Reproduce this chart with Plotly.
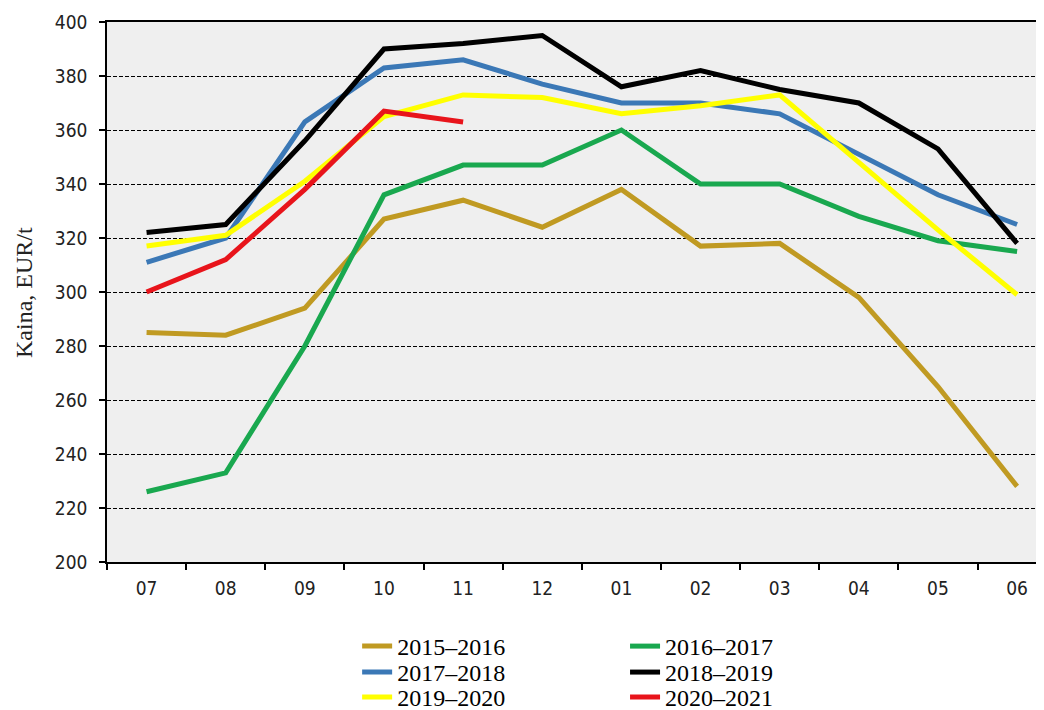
import plotly.graph_objects as go

months = ["07", "08", "09", "10", "11", "12", "01", "02", "03", "04", "05", "06"]

s_2015_2016 = [285, 284, 294, 327, 334, 324, 338, 317, 318, 298, 265, 228]
s_2016_2017 = [226, 233, 280, 336, 347, 347, 360, 340, 340, 328, 319, 315]
s_2017_2018 = [311, 320, 363, 383, 386, 377, 370, 370, 366, 351, 336, 325]
s_2018_2019 = [322, 325, 356, 390, 392, 395, 376, 382, 375, 370, 353, 318]
s_2019_2020 = [317, 321, 341, 365, 373, 372, 366, 369, 373, 348, 323, 299]
s_2020_2021 = [300, 312, 338, 367, 363]

series_names = ["2015–2016", "2016–2017", "2017–2018", "2018–2019", "2019–2020", "2020–2021"]
series_values = [s_2015_2016, s_2016_2017, s_2017_2018, s_2018_2019, s_2019_2020, s_2020_2021]
colors = ["#C09A22", "#19A84F", "#3B78B6", "#000000", "#FFFF00", "#E8141B"]

fig = go.Figure()
legend_ids = ["legend"] + [f"legend{i}" for i in range(2, 7)]
for name, vals, col, lg in zip(series_names, series_values, colors, legend_ids):
    fig.add_trace(go.Scatter(
        x=months[:len(vals)], y=vals, name=name, mode="lines",
        line=dict(color=col, width=5), legend=lg, showlegend=True,
    ))

legend_font = dict(family="Liberation Serif, Times New Roman, serif", size=24, color="#000")
tick_font = dict(family="DejaVu Sans Condensed, DejaVu Sans, sans-serif", size=19, color="#222")

# legend grid: 2 columns x 3 rows
col_x = [0.337, 0.5956]
row_y = [0.1225, 0.0855, 0.0500]
legend_layout = {}
for i, lg in enumerate(legend_ids):
    legend_layout[lg] = dict(
        x=col_x[i % 2], y=row_y[i // 2], xref="container", yref="container",
        xanchor="left", yanchor="top", orientation="v", font=legend_font,
        bgcolor="rgba(0,0,0,0)", itemwidth=30,
    )

fig.update_layout(
    width=1036, height=702,
    showlegend=True,
    margin=dict(l=99, r=0, t=14, b=148, autoexpand=False),
    paper_bgcolor="white",
    plot_bgcolor="#EFEFEF",
    font=tick_font,
    annotations=[dict(
        text="Kaina, EUR/t", textangle=-90, showarrow=False,
        xref="paper", yref="paper", x=-0.0886, y=0.5, xanchor="center", yanchor="middle",
        font=dict(family="Liberation Serif, Times New Roman, serif", size=24, color="#222"),
    )],
    **legend_layout,
)
fig.update_xaxes(
    type="category", categoryorder="array", categoryarray=months,
    range=[-0.5, 11.34],
    showline=True, linecolor="#000", linewidth=1.5, mirror=True,
    ticks="outside", tickson="boundaries", ticklen=6, tickcolor="#000", tickwidth=1.5,
    showgrid=False, zeroline=False, tickangle=0, ticklabelstandoff=8,
    tickfont=tick_font,
)
fig.update_yaxes(
    range=[200, 400], dtick=20, tick0=200,
    showline=True, linecolor="#000", linewidth=1.5,
    ticks="outside", ticklen=6, tickcolor="#000", tickwidth=1.5,
    showgrid=True, gridcolor="#000", gridwidth=1, griddash="4px,2px",
    zeroline=False, ticklabelstandoff=8,
    tickfont=tick_font,
)

fig.write_html("out.html")
